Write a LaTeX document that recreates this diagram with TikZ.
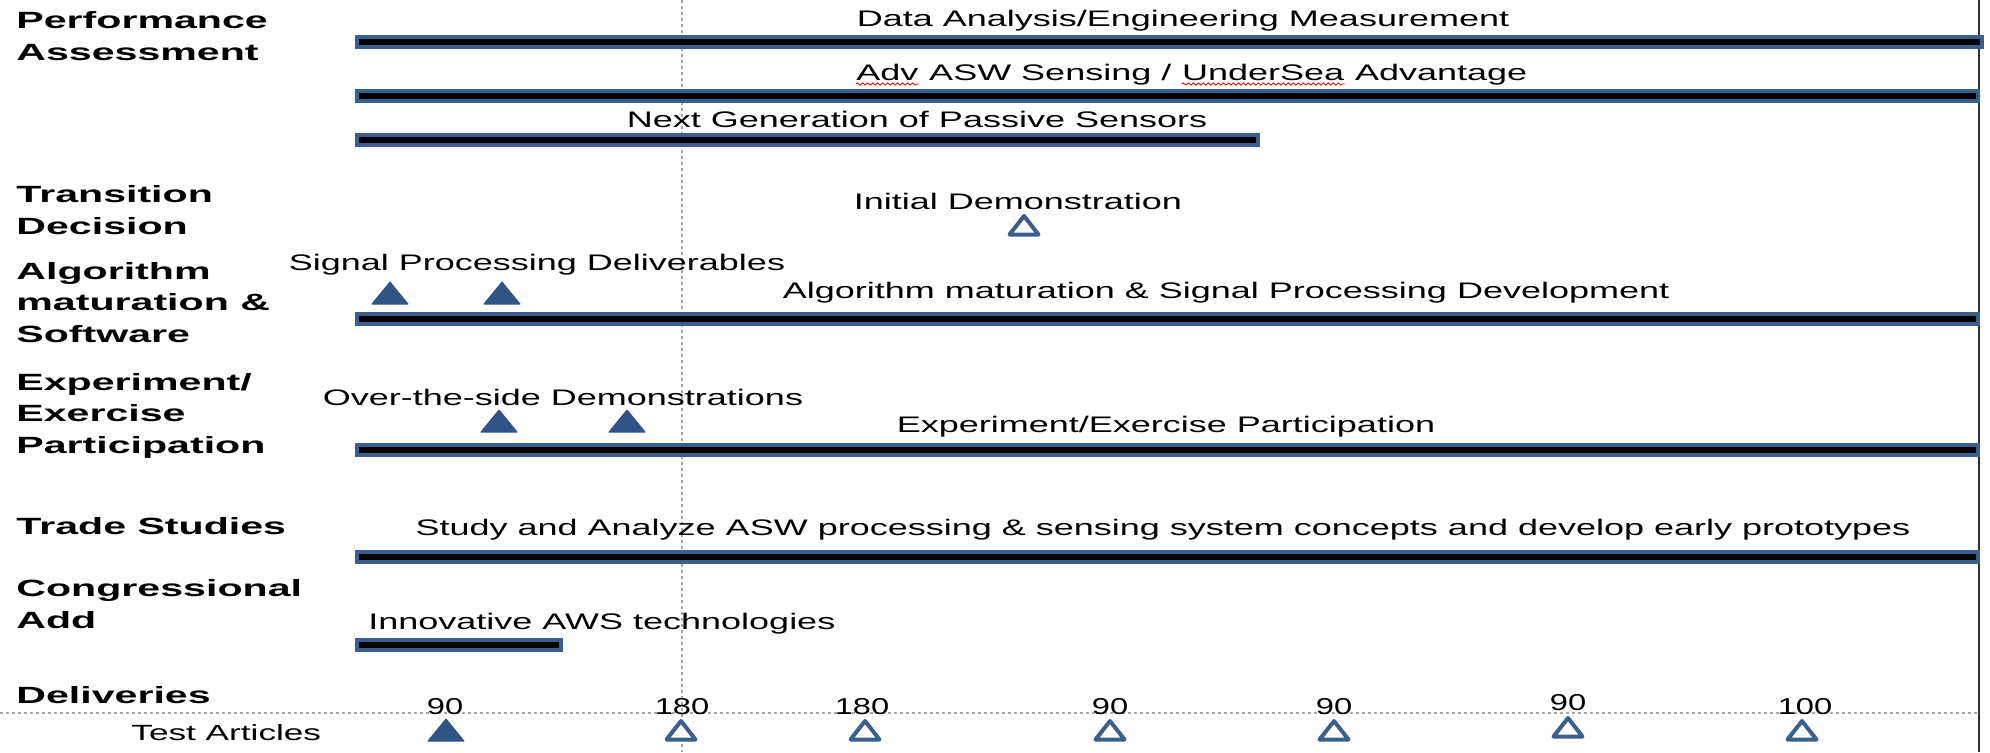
\documentclass[tikz,border=0pt]{standalone}
\usepackage{fontspec}
\setmainfont{Liberation Sans}[FakeStretch=1.6]
\newfontfamily\lblfont{Liberation Sans}[FakeStretch=1.75]
\newfontfamily\numfont{Liberation Sans}[FakeStretch=1.42]
\usetikzlibrary{decorations.pathmorphing}
\definecolor{barblue}{HTML}{3A5F8E}
\definecolor{trifill}{HTML}{2F5587}
\tikzset{
  ganttbar/.style={fill=black, draw=barblue, line width=1.75pt},
  txt/.style={font=\fontsize{11.25}{13}\selectfont, inner sep=0pt, anchor=base},
  lbl/.style={font=\lblfont\bfseries\fontsize{11.75}{15.75}\selectfont, inner sep=0pt, anchor=base west, align=left},
  num/.style={font=\numfont\fontsize{11.5}{13}\selectfont, inner sep=0pt, anchor=base},
  filltri/.style={fill=trifill, draw=trifill, line width=0.5pt, line join=round},
  hollowtri/.style={draw=barblue, fill=white, line width=2pt, line join=round},
  dotline/.style={draw=gray!70, line width=0.6pt, dash pattern=on 1.5pt off 1.5pt},
  squiggle/.style={draw=red!85!black, line width=0.4pt, decorate, decoration={snake, amplitude=0.6pt, segment length=2.5pt}},
}
\newcommand\filledtri[2]{\filldraw[filltri] (#1-18,#2+11) -- (#1+18,#2+11) -- (#1,#2-11) -- cycle;}
\newcommand\hollowtri[2]{\draw[hollowtri] (#1-14.5,#2+9.5) -- (#1+14.5,#2+9.5) -- (#1,#2-9) -- cycle;}
\begin{document}
\begin{tikzpicture}[x=0.5pt,y=-0.5pt]
\useasboundingbox (0,0) rectangle (1990,752);
\fill[white] (0,0) rectangle (1990,752);
% guide lines
\draw[dotline] (682,0) -- (682,752);
\draw[dotline] (0,713) -- (1977,713);
\draw[line width=1.25pt, draw=black!80] (1979,0) -- (1979,752);

% row labels (anchor = baseline of last line)
\node[lbl] (pa) at (16,60) {Performance\\Assessment};
\node[lbl] (td) at (16,234) {Transition\\Decision};
\node[lbl] (am) at (16,342) {Algorithm\\maturation \&\\Software};
\node[lbl] (ep) at (16,453) {Experiment/\\Exercise\\Participation};
\node[lbl] (ts) at (16,534) {Trade Studies};
\node[lbl] (ca) at (16,628) {Congressional\\Add};
\node[lbl] (dl) at (16,703) {Deliveries};
\node[txt, anchor=base west, font=\fontsize{11}{13}\selectfont] (ta) at (131,740) {Test Articles};

% bars
\draw[ganttbar] (357,37) rectangle (1982,47);
\draw[ganttbar] (357,91) rectangle (1978,101);
\draw[ganttbar] (357,135) rectangle (1258,145);
\draw[ganttbar] (357,314) rectangle (1978,324);
\draw[ganttbar] (357,445) rectangle (1978,455);
\draw[ganttbar] (357,552) rectangle (1978,562);
\draw[ganttbar] (357,640) rectangle (561,650);

% bar texts
\node[txt] (t1) at (1183,26) {Data Analysis/Engineering Measurement};
\node[txt, anchor=base west] (adv) at (856,80) {Adv};
\node[txt, anchor=base west] (asw) at (adv.base east) {\ ASW Sensing /\ \null};
\node[txt, anchor=base west] (us) at (asw.base east) {UnderSea};
\node[txt, anchor=base west] (advt) at (us.base east) {\ Advantage};
\draw[squiggle] ([yshift=-2pt]adv.base west) -- ([yshift=-2pt]adv.base east);
\draw[squiggle] ([yshift=-2pt]us.base west) -- ([yshift=-2pt]us.base east);
\node[txt] (t3) at (917,127) {Next Generation of Passive Sensors};
\node[txt] (t4) at (1018,209) {Initial Demonstration};
\node[txt] (t5) at (537,270) {Signal Processing Deliverables};
\node[txt] (t6) at (1226,298) {Algorithm maturation \& Signal Processing Development};
\node[txt] (t7) at (563,405) {Over-the-side Demonstrations};
\node[txt] (t8) at (1166,432) {Experiment/Exercise Participation};
\node[txt] (t9) at (1163,535) {Study and Analyze ASW processing \& sensing system concepts and develop early prototypes};
\node[txt, anchor=base west] (t10) at (368,629) {Innovative AWS technologies};

% milestones
\hollowtri{1024}{225}
\filledtri{390}{293}
\filledtri{502}{293}
\filledtri{499}{421}
\filledtri{627}{421}

% deliveries
\node[num] (n1) at (445,714) {90};
\node[num] (n2) at (682,714) {180};
\node[num] (n3) at (862,714) {180};
\node[num] (n4) at (1110,714) {90};
\node[num] (n5) at (1334,714) {90};
\node[num] (n6) at (1568,710.5) {90};
\node[num] (n7) at (1805,714) {100};
\filledtri{446}{730}
\hollowtri{681}{730}
\hollowtri{865}{730}
\hollowtri{1110}{730}
\hollowtri{1334}{730}
\hollowtri{1568}{727}
\hollowtri{1802}{730}
\end{tikzpicture}
\end{document}
